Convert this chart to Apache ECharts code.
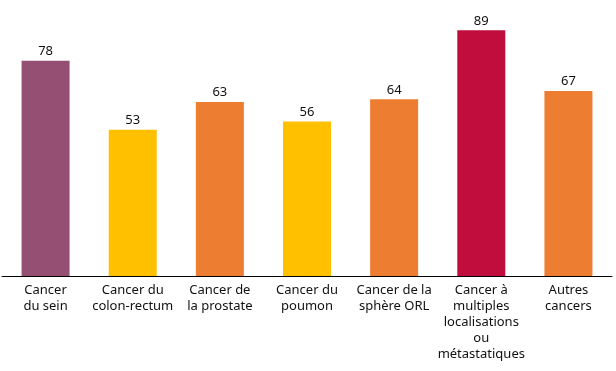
<!DOCTYPE html>
<html>
<head>
<meta charset="utf-8">
<script src="https://cdn.jsdelivr.net/npm/echarts@6/dist/echarts.min.js"></script>
<style>html,body{margin:0;padding:0;background:#fff;}#c{width:616px;height:371px;}</style>
</head>
<body>
<div id="c"></div>
<script>
var categories = ["Cancer\ndu sein", "Cancer du\ncolon-rectum", "Cancer de\nla prostate", "Cancer du\npoumon", "Cancer de la\nsphère ORL", "Cancer à\nmultiples\nlocalisations\nou\nmétastatiques", "Autres\ncancers"];
var values = [78, 53, 63, 56, 64, 89, 67];
var colors = ["#954F72", "#FFC000", "#ED7D31", "#FFC000", "#ED7D31", "#C00D3E", "#ED7D31"];

var chart = echarts.init(document.getElementById('c'));
chart.setOption({
  animation: false,
  grid: {left: 2, right: 4, top: 0, bottom: 95, containLabel: false},
  xAxis: {
    type: 'category',
    data: categories,
    axisLine: {lineStyle: {color: '#000', width: 1}},
    axisTick: {show: false},
    axisLabel: {interval: 0, color: '#111', fontFamily: 'Noto Sans', fontSize: 13, lineHeight: 16, margin: 6}
  },
  yAxis: {type: 'value', min: 0, max: 100, show: false, splitLine: {show: false}},
  series: [{
    type: 'bar',
    barWidth: 48,
    data: values.map(function (v, i) { return {value: v, itemStyle: {color: colors[i]}}; }),
    label: {show: true, position: 'top', distance: 3, color: '#111', fontFamily: 'Noto Sans', fontSize: 13}
  }]
});
</script>
</body>
</html>
